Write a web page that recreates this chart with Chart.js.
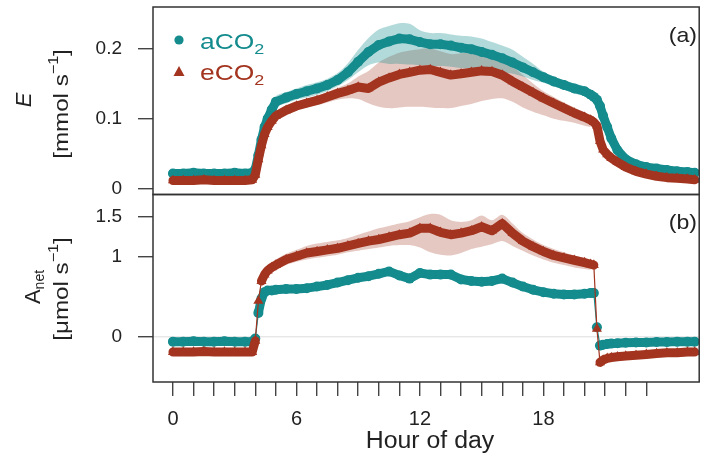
<!DOCTYPE html>
<html>
<head>
<meta charset="utf-8">
<script src="https://cdn.jsdelivr.net/npm/chart.js@4.4.1/dist/chart.umd.min.js"></script>
<style>
  html, body { margin: 0; padding: 0; background: #fff; }
</style>
</head>
<body>
<canvas id="chart-canvas" width="705" height="462"></canvas>
<script>
// hour of day for every logged point
const hours = [0, 0.5, 1, 1.5, 2, 2.5, 3, 3.5,
  3.85, 4.0, 4.15, 4.3, 4.45, 4.6, 4.8,
  5, 5.5, 6, 6.5, 7, 7.5, 8, 8.5, 9, 9.5, 10, 10.5, 11, 11.5, 12, 12.5, 13, 13.5,
  14, 14.5, 15, 15.5, 16, 16.5, 17, 17.5, 18, 18.5, 19, 19.5, 20,
  20.3, 20.45, 20.6, 20.75, 20.9, 21.1, 21.3, 21.6,
  22, 22.5, 23, 23.5, 24, 24.5, 25, 25.35];

// (a) transpiration E [mmol s-1]
const eAmbient = [0.022, 0.022, 0.023, 0.022, 0.022, 0.022, 0.023, 0.022,
  0.023, 0.028, 0.048, 0.07, 0.088, 0.1, 0.113,
  0.124, 0.13, 0.135, 0.139, 0.143, 0.148, 0.155, 0.166, 0.181, 0.195, 0.205, 0.21, 0.214, 0.213, 0.209, 0.206, 0.206, 0.204,
  0.201, 0.199, 0.195, 0.191, 0.186, 0.18, 0.173, 0.166, 0.159, 0.153, 0.148, 0.143, 0.139,
  0.134, 0.131, 0.127, 0.118, 0.104, 0.088, 0.072, 0.055,
  0.042, 0.035, 0.031, 0.029, 0.027, 0.025, 0.024, 0.023];
const eElevated = [0.012, 0.012, 0.012, 0.013, 0.012, 0.012, 0.012, 0.012,
  0.013, 0.02, 0.042, 0.062, 0.078, 0.088, 0.097,
  0.104, 0.112, 0.118, 0.122, 0.126, 0.131, 0.136, 0.14, 0.145, 0.143, 0.152, 0.158, 0.163, 0.166, 0.169, 0.17, 0.166, 0.162,
  0.164, 0.166, 0.168, 0.167, 0.162, 0.153, 0.145, 0.137, 0.129, 0.122, 0.115, 0.108, 0.102,
  0.098, 0.095, 0.09, 0.068, 0.056, 0.049, 0.044, 0.038,
  0.031, 0.025, 0.021, 0.018, 0.016, 0.015, 0.014, 0.013];

// (b) net assimilation Anet [umol s-1]
const aAmbient = [-0.06, -0.06, -0.055, -0.06, -0.06, -0.055, -0.06, -0.06,
  -0.06, -0.02, 0.3, 0.48, 0.56, 0.58, 0.58,
  0.59, 0.6, 0.6, 0.61, 0.63, 0.65, 0.68, 0.71, 0.74, 0.76, 0.79, 0.82, 0.77, 0.73, 0.8, 0.78, 0.78, 0.78,
  0.72, 0.7, 0.69, 0.7, 0.73, 0.68, 0.63, 0.59, 0.56, 0.54, 0.53, 0.53, 0.54,
  0.55, 0.55, 0.12, -0.11, -0.1, -0.09, -0.085, -0.08,
  -0.075, -0.07, -0.07, -0.065, -0.065, -0.06, -0.06, -0.06];
const aElevated = [-0.19, -0.19, -0.19, -0.185, -0.19, -0.19, -0.19, -0.19,
  -0.19, -0.05, 0.45, 0.7, 0.78, 0.83, 0.87,
  0.9, 0.97, 1.01, 1.05, 1.07, 1.09, 1.11, 1.14, 1.17, 1.2, 1.22, 1.25, 1.28, 1.3, 1.36, 1.36, 1.31, 1.28,
  1.3, 1.33, 1.38, 1.33, 1.42, 1.3, 1.2, 1.13, 1.07, 1.02, 0.99, 0.96, 0.93,
  0.91, 0.9, 0.1, -0.32, -0.29, -0.27, -0.26, -0.25,
  -0.24, -0.23, -0.22, -0.21, -0.2, -0.2, -0.19, -0.19];

// daytime spread (shaded bands)
const bandHours = [4.3, 4.6, 5, 5.5, 6, 6.5, 7, 7.5, 8, 8.5, 9, 9.5, 10, 10.5, 11, 11.5, 12,
  12.5, 13, 13.5, 14, 14.5, 15, 15.5, 16, 16.5, 17, 17.5, 18, 18.5, 19, 19.5, 20, 20.3];
const eAmbientHi = [0.073, 0.106, 0.132, 0.138, 0.143, 0.148, 0.152, 0.157, 0.165, 0.179, 0.198, 0.215, 0.227, 0.232, 0.236, 0.235, 0.226,
  0.222, 0.222, 0.22, 0.218, 0.217, 0.214, 0.209, 0.204, 0.198, 0.188, 0.178, 0.167, 0.16, 0.155, 0.15, 0.146, 0.14];
const eAmbientLo = [0.067, 0.094, 0.116, 0.122, 0.127, 0.13, 0.134, 0.139, 0.146, 0.155, 0.166, 0.176, 0.18, 0.178, 0.178, 0.177, 0.176,
  0.175, 0.175, 0.174, 0.172, 0.171, 0.17, 0.168, 0.166, 0.164, 0.16, 0.155, 0.151, 0.146, 0.141, 0.136, 0.132, 0.128];
const eElevatedHi = [0.065, 0.092, 0.109, 0.118, 0.124, 0.128, 0.132, 0.138, 0.144, 0.15, 0.16, 0.168, 0.18, 0.188, 0.194, 0.197, 0.199,
  0.2, 0.196, 0.192, 0.193, 0.195, 0.196, 0.194, 0.188, 0.175, 0.162, 0.15, 0.139, 0.131, 0.123, 0.116, 0.109, 0.104];
const eElevatedLo = [0.059, 0.084, 0.099, 0.106, 0.112, 0.116, 0.119, 0.123, 0.127, 0.129, 0.128, 0.122, 0.117, 0.115, 0.116, 0.117, 0.117,
  0.116, 0.115, 0.115, 0.118, 0.121, 0.125, 0.128, 0.129, 0.124, 0.116, 0.11, 0.105, 0.1, 0.097, 0.094, 0.09, 0.088];
const aElevatedHi = [0.76, 0.9, 0.97, 1.04, 1.09, 1.14, 1.17, 1.19, 1.21, 1.24, 1.28, 1.32, 1.36, 1.39, 1.42, 1.45, 1.5,
  1.54, 1.53, 1.46, 1.44, 1.46, 1.52, 1.46, 1.53, 1.42, 1.3, 1.22, 1.15, 1.1, 1.06, 1.02, 0.99, 0.96];
const aElevatedLo = [0.66, 0.78, 0.84, 0.9, 0.94, 0.97, 0.99, 1.01, 1.03, 1.06, 1.08, 1.1, 1.12, 1.14, 1.15, 1.15, 1.12,
  1.06, 1.03, 1.02, 1.05, 1.1, 1.13, 1.16, 1.2, 1.14, 1.08, 1.02, 0.97, 0.93, 0.9, 0.87, 0.85, 0.84];

const hourTicks = [0, 1, 2, 3, 4, 5, 6, 7, 8, 9, 10, 11, 12, 13, 14, 15, 16, 17, 18, 19, 20, 21, 22, 23];
const hourLabels = [0, 6, 12, 18];
const eTicks = [0, 0.1, 0.2];
const aTicks = [0, 1, 1.5];

const TEAL = '#148b8d';
const BROWN = '#a3341f';
const TEAL_BAND = 'rgba(20, 139, 141, 0.32)';
const BROWN_BAND = 'rgba(163, 52, 31, 0.27)';
const FONT = '"Liberation Sans", Arial, sans-serif';

const pts = (xs, ys) => xs.map((x, i) => ({ x, y: ys[i] }));

// thin connecting line where the series jumps, thick bead line elsewhere
const beadWidth = (ctx) => (Math.abs(ctx.p1.y - ctx.p0.y) > 18 ? 1.2 : 9);

function band(xs, hi, lo, axis, color) {
  return [
    { data: pts(xs, hi), yAxisID: axis, borderWidth: 0, pointRadius: 0, fill: false, tension: 0.3, order: 5 },
    { data: pts(xs, lo), yAxisID: axis, borderWidth: 0, pointRadius: 0, fill: '-1', backgroundColor: color, tension: 0.3, order: 5 },
  ];
}

function series(ys, axis, color, style, order) {
  return {
    data: pts(hours, ys),
    yAxisID: axis,
    borderColor: color,
    backgroundColor: color,
    pointBackgroundColor: color,
    pointBorderWidth: 0,
    pointStyle: style,
    pointRadius: style === 'triangle' ? 5.8 : 5,
    borderWidth: 9,
    borderCapStyle: 'round',
    borderJoinStyle: 'round',
    segment: { borderWidth: beadWidth },
    fill: false,
    order,
  };
}

function drawRuns(ctx, runs, x, y, opts = {}) {
  const { align = 'center', baseline = 'alphabetic', rotate = 0, sx = 1, color = '#222' } = opts;
  const fontOf = (r) => `${r.italic ? 'italic ' : ''}${r.size}px ${FONT}`;
  ctx.save();
  ctx.translate(x, y);
  if (rotate) ctx.rotate(rotate);
  ctx.scale(sx, 1);
  ctx.fillStyle = color;
  ctx.textBaseline = baseline;
  ctx.textAlign = 'left';
  let total = 0;
  const widths = runs.map((r) => {
    ctx.font = fontOf(r);
    const w = ctx.measureText(r.text).width;
    total += w;
    return w;
  });
  let cx = align === 'left' ? 0 : align === 'right' ? -total : -total / 2;
  runs.forEach((r, i) => {
    ctx.font = fontOf(r);
    ctx.fillText(r.text, cx, r.dy || 0);
    cx += widths[i];
  });
  ctx.restore();
}

const panelFrame = {
  id: 'panelFrame',
  beforeDatasetsDraw(chart) {
    const { ctx, chartArea, scales } = chart;
    const y0 = scales.yA.getPixelForValue(0);
    ctx.save();
    ctx.strokeStyle = '#dcdcdc';
    ctx.lineWidth = 1;
    ctx.beginPath();
    ctx.moveTo(chartArea.left, y0);
    ctx.lineTo(chartArea.right, y0);
    ctx.stroke();
    ctx.restore();
  },
  afterDraw(chart) {
    const { ctx, chartArea: ca, scales } = chart;
    ctx.save();
    ctx.strokeStyle = '#333';
    ctx.lineWidth = 1.5;
    ['yE', 'yA'].forEach((id) => {
      const s = scales[id];
      ctx.strokeRect(ca.left, s.top, ca.right - ca.left, s.bottom - s.top);
    });

    // legend
    ctx.fillStyle = TEAL;
    ctx.beginPath();
    ctx.arc(179, 40, 4.6, 0, Math.PI * 2);
    ctx.fill();
    ctx.fillStyle = BROWN;
    ctx.beginPath();
    ctx.moveTo(179, 66);
    ctx.lineTo(184.5, 76);
    ctx.lineTo(173.5, 76);
    ctx.closePath();
    ctx.fill();
    drawRuns(ctx, [{ text: 'aCO', size: 22 }, { text: '2', size: 15, dy: 5 }], 200, 49, { align: 'left', sx: 1.2, color: TEAL });
    drawRuns(ctx, [{ text: 'eCO', size: 22 }, { text: '2', size: 15, dy: 5 }], 200, 80, { align: 'left', sx: 1.2, color: BROWN });

    // panel tags
    drawRuns(ctx, [{ text: '(a)', size: 21 }], 697, 42, { align: 'right', sx: 1.1 });
    drawRuns(ctx, [{ text: '(b)', size: 21 }], 697, 229, { align: 'right', sx: 1.1 });

    // axis titles
    drawRuns(ctx, [{ text: 'Hour of day', size: 23 }], 430, 448, { sx: 1.08 });
    const up = -Math.PI / 2;
    drawRuns(ctx, [{ text: 'E', size: 22, italic: true }], 25, 100, { rotate: up, baseline: 'middle' });
    drawRuns(ctx, [{ text: '[mmol s', size: 21 }, { text: '\u22121', size: 14, dy: -8 }, { text: ']', size: 21 }],
      62, 104, { rotate: up, baseline: 'middle', sx: 1.15 });
    drawRuns(ctx, [{ text: 'A', size: 22 }, { text: 'net', size: 14, dy: 6 }], 34, 287, { rotate: up, baseline: 'middle' });
    drawRuns(ctx, [{ text: '[\u03bcmol s', size: 21 }, { text: '\u22121', size: 14, dy: -8 }, { text: ']', size: 21 }],
      62, 289, { rotate: up, baseline: 'middle', sx: 1.15 });
    ctx.restore();
  },
};

const tickFont = { family: 'Liberation Sans', size: 19 };
const yGrid = { drawOnChartArea: false, drawTicks: true, tickLength: 15, color: '#444', lineWidth: 1.4 };

// fixed panel geometry: no label overhang padding
function fitY(s) {
  s.width = 153;
  s.paddingTop = 0;
  s.paddingBottom = 0;
}

function createChart() {
  const canvas = document.getElementById('chart-canvas');

  const datasets = [
    ...band(bandHours, eAmbientHi, eAmbientLo, 'yE', TEAL_BAND),
    ...band(bandHours, eElevatedHi, eElevatedLo, 'yE', BROWN_BAND),
    ...band(bandHours, aElevatedHi, aElevatedLo, 'yA', BROWN_BAND),
    series(eAmbient, 'yE', TEAL, 'circle', 2),
    series(eElevated, 'yE', BROWN, 'triangle', 1),
    series(aAmbient, 'yA', TEAL, 'circle', 2),
    series(aElevated, 'yA', BROWN, 'triangle', 1),
  ];

  const options = {
    type: 'line',
    data: { datasets },
    options: {
      responsive: false,
      animation: false,
      devicePixelRatio: 1,
      layout: { padding: { top: 7, right: 4, left: 0, bottom: 0 } },
      plugins: { legend: { display: false }, tooltip: { enabled: false } },
      scales: {
        x: {
          type: 'linear',
          min: -0.97,
          max: 25.57,
          afterBuildTicks: (s) => { s.ticks = hourTicks.map((v) => ({ value: v })); },
          afterFit: (s) => { s.height = 80; s.paddingLeft = 0; s.paddingRight = 0; },
          border: { display: false },
          grid: { drawOnChartArea: false, drawTicks: true, tickLength: 14, color: '#444', lineWidth: 1.4 },
          ticks: {
            font: { family: 'Liberation Sans', size: 20 },
            color: '#222',
            padding: 11,
            maxRotation: 0,
            autoSkip: false,
            callback: (v) => (hourLabels.includes(v) ? String(v) : ''),
          },
        },
        yE: {
          type: 'linear',
          position: 'left',
          stack: 'panels',
          stackWeight: 1,
          weight: 2,
          min: -0.008,
          max: 0.259,
          afterBuildTicks: (s) => { s.ticks = eTicks.map((v) => ({ value: v })); },
          afterFit: fitY,
          border: { display: false },
          grid: yGrid,
          ticks: { font: tickFont, color: '#222', padding: 16, callback: (v) => String(v) },
        },
        yA: {
          type: 'linear',
          position: 'left',
          stack: 'panels',
          stackWeight: 1,
          weight: 1,
          min: -0.566,
          max: 1.784,
          afterBuildTicks: (s) => { s.ticks = aTicks.map((v) => ({ value: v })); },
          afterFit: fitY,
          border: { display: false },
          grid: yGrid,
          ticks: { font: tickFont, color: '#222', padding: 16, callback: (v) => String(v) },
        },
      },
    },
    plugins: [panelFrame],
  };

  new Chart(canvas, options);
}

document.addEventListener('DOMContentLoaded', createChart);
</script>
</body>
</html>
